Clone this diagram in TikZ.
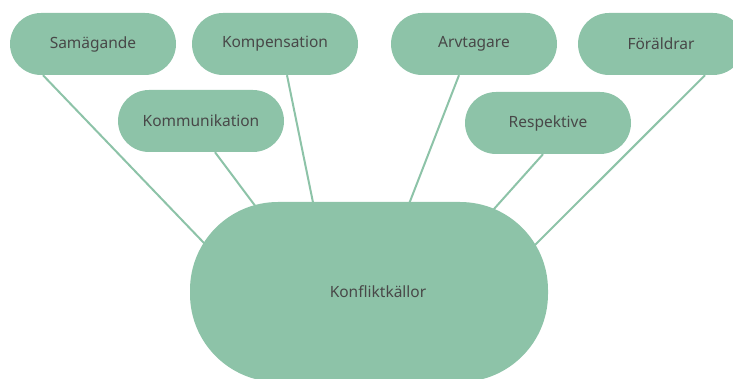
\documentclass[tikz,border=0pt]{standalone}
\usepackage{fontspec}
\setmainfont{Noto Sans}
\usetikzlibrary{calc,backgrounds}
\definecolor{pillgreen}{RGB}{141,195,168}
\definecolor{txtgray}{RGB}{72,72,72}
\tikzset{
  pilltext/.style={text=txtgray, font=\fontsize{15.5}{18}\selectfont},
  pill/.style={pilltext, fill=pillgreen, draw=none, rounded corners=31pt, minimum width=166pt, minimum height=62pt, inner sep=0pt},
  bigpill/.style={fill=pillgreen, draw=none, rounded corners=88pt, minimum width=358pt, minimum height=180pt, inner sep=0pt},
  link/.style={draw=pillgreen, line width=2pt}
}
\begin{document}
\begin{tikzpicture}[x=1pt,y=-1pt]
\clip (0,0) rectangle (733,379);
\node[pill] (sam) at (93,44) {Samägande};
\node[pill] (komp) at (275,44) {Kompensation};
\node[pill] (kom) at (201,121) {Kommunikation};
\node[pill] (arv) at (474,44) {Arvtagare};
\node[pill] (for) at (661,44) {Föräldrar};
\node[pill] (resp) at (548,123) {Respektive};
\node[bigpill, label={[xshift=9pt, pilltext]center:Konfliktkällor}] (big) at (369,292) {};
\begin{scope}[on background layer]
\draw[link] ([xshift=-50pt]sam.south) -- ($(big.center)+(-142,-25)$);
\draw[link] ([xshift=14pt]kom.south) -- ($(big.center)+(-101,-69)$);
\draw[link] ([xshift=12pt]komp.south) -- ($(big.center)+(-52,-70)$);
\draw[link] ([xshift=-15pt]arv.south) -- ($(big.center)+(33,-70)$);
\draw[link] ([xshift=-5pt]resp.south) -- ($(big.center)+(108,-64)$);
\draw[link] ([xshift=44pt]for.south) -- ($(big.center)+(148,-29)$);
\end{scope}
\end{tikzpicture}
\end{document}
